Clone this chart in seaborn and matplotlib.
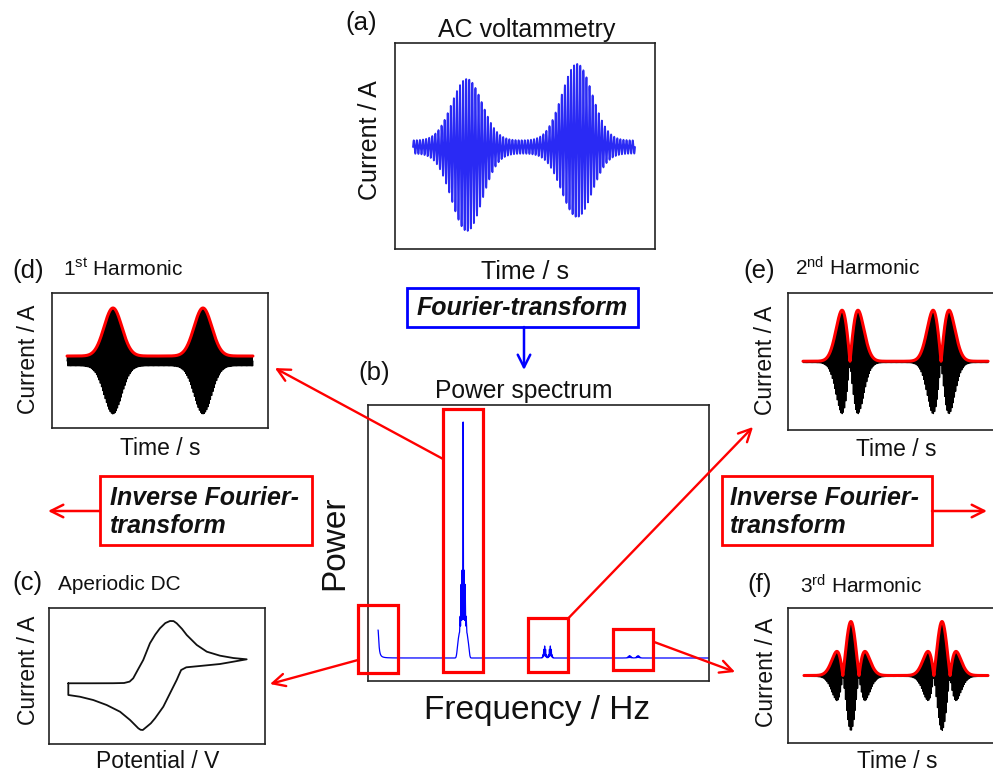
import numpy as np
import matplotlib
matplotlib.use("Agg")
import matplotlib.pyplot as plt
import seaborn as sns
from matplotlib.patches import Rectangle, FancyArrowPatch, ConnectionPatch

# ---------------------------------------------------------------- data
# AC voltammetry: time normalised to the scan length (0..1)
ac_peak_time = [0.243, 0.739]
ac_peak_amp = [0.914, 0.921]
ac_peak_dc = [-0.105, 0.086]
ac_peak_width = [0.068, 0.068]
ac_base_amp = 0.086
ac_cycles = 72

# harmonic envelopes (1st, 2nd, 3rd)
h1_peak_time = [0.247, 0.731]
h1_peak_amp = [0.906, 0.906]
h1_width = 0.048
h1_base = 0.094

h2_peak_time = [0.254, 0.746]
h2_peak_amp = [1.0, 1.0]
h2_width = 0.043
h2_base = 0.015

h3_peak_time = [0.255, 0.750]
h3_peak_amp = [1.0, 1.0]
h3_width = 0.044
h3_base = 0.01

harmonic_cycles = 150

# aperiodic DC component (cyclic voltammogram), potential in V, current in uA
cv_fwd_E = [-0.200, -0.100, 0.000, 0.050, 0.075, 0.091, 0.113, 0.136, 0.166, 0.190,
            0.211, 0.235, 0.256, 0.272, 0.286, 0.310, 0.331, 0.376, 0.421, 0.480,
            0.540, 0.600]
cv_fwd_I = [-1.30, -1.30, -1.29, -1.25, -1.00, -0.41, 1.20, 2.86, 5.84, 7.40,
            8.52, 9.45, 9.82, 9.80, 9.41, 8.40, 7.32, 5.54, 4.34, 3.63,
            3.21, 2.98]
cv_rev_E = [0.600, 0.539, 0.480, 0.391, 0.329, 0.306, 0.296, 0.286, 0.256, 0.226,
            0.189, 0.170, 0.152, 0.134, 0.124, 0.114, 0.077, 0.032, -0.028, -0.088,
            -0.148, -0.200, -0.200]
cv_rev_I = [2.98, 2.55, 2.14, 1.79, 1.55, 1.07, 0.20, -0.71, -3.09, -5.48,
            -7.55, -8.45, -9.05, -9.64, -9.60, -9.34, -7.86, -6.38, -5.18, -4.29,
            -3.70, -3.39, -1.30]

# power spectrum (frequency in Hz, power in arbitrary units)
fundamental_hz = 9.0
dc_height = 28.0
dc_halfwidth = 0.10
main_peak_height = 236.0     # tip of the fundamental
main_body_height = 89.0      # dense sideband cluster
main_foot_height = 26.0      # broad pedestal
harm_peak_freq = [17.62, 18.22, 26.6, 27.5]
harm_peak_height = [12.0, 12.0, 2.3, 2.3]
harm_peak_width = [0.12, 0.12, 0.15, 0.15]

# frequency windows selected for the inverse transform
window_center = [0.0, 9.0, 18.0, 27.0]
window_halfwidth = 2.12
window_top = [53, 249, 40, 29]
window_bottom = [-15, -14, -14, -12]
link_from_power = [-2, 199, 39.7, 16.3]

# ---------------------------------------------------------------- style
sns.set_style("white")
plt.rcParams["font.family"] = ["Liberation Sans", "DejaVu Sans"]
plt.rcParams["mathtext.fontset"] = "custom"
plt.rcParams["mathtext.rm"] = "Liberation Sans"
plt.rcParams["mathtext.it"] = "Liberation Sans:italic"
plt.rcParams["mathtext.bf"] = "Liberation Sans:bold"

W, H = 993, 773
fig = plt.figure(figsize=(W / 100, H / 100), dpi=100)
fig.patch.set_facecolor("white")

BLUE = "#0000ff"
RED = "#ff0000"
INK = "#111111"


def add_axes(left, top, right, bottom):
    ax = fig.add_axes([left / W, 1 - bottom / H, (right - left) / W, (bottom - top) / H])
    ax.set_xticks([])
    ax.set_yticks([])
    for sp in ax.spines.values():
        sp.set_color("#222222")
        sp.set_linewidth(1.2)
    ax.set_facecolor("white")
    return ax


def ftext(x, y, s, **kw):
    kw.setdefault("color", INK)
    kw.setdefault("va", "baseline")
    return fig.text(x / W, 1 - y / H, s, **kw)


def vlabel(x, y, s, size):
    ftext(x, y, s, rotation=90, rotation_mode="anchor", ha="center", fontsize=size)


def gauss(t, c, s):
    return np.exp(-0.5 * ((t - c) / s) ** 2)


def line(ax, x, y, **kw):
    sns.lineplot(x=x, y=y, ax=ax, estimator=None, sort=False, legend=False, **kw)


# ---------------------------------------------------------------- (a) AC voltammetry
ax_a = add_axes(395, 43, 655, 249)
t = np.linspace(0, 1, 30000)
env = ac_base_amp + sum(a * gauss(t, c, w) for a, c, w in zip(ac_peak_amp, ac_peak_time, ac_peak_width))
dc = sum(d * gauss(t, c, w) for d, c, w in zip(ac_peak_dc, ac_peak_time, ac_peak_width))
line(ax_a, t, dc + env * np.sin(2 * np.pi * ac_cycles * t), color="#2a2af4", lw=1.3)
ax_a.set_xlim(-0.081, 1.09)
ax_a.set_ylim(-1.342, 1.368)

# ---------------------------------------------------------------- harmonics
th = np.linspace(0, 1, 30000)
carrier = np.sin(2 * np.pi * harmonic_cycles * th)


def harmonic_panel(box, env, xlim, ylim):
    ax = add_axes(*box)
    line(ax, th, env * carrier, color="black", lw=0.8)
    line(ax, th, env, color=RED, lw=2.2, solid_capstyle="round")
    ax.set_xlim(*xlim)
    ax.set_ylim(*ylim)
    return ax


env1 = h1_base + sum(a * gauss(th, c, h1_width) for a, c in zip(h1_peak_amp, h1_peak_time))
env2 = h2_base + sum(a * np.abs((th - c) / h2_width) * np.exp(0.5) * gauss(th, c, h2_width)
                     for a, c in zip(h2_peak_amp, h2_peak_time))
env3 = h3_base + sum(a * np.abs(1 - ((th - c) / h3_width) ** 2) * gauss(th, c, h3_width)
                     for a, c in zip(h3_peak_amp, h3_peak_time))

ax_d = harmonic_panel((52, 293, 268, 428), env1, (-0.081, 1.081), (-1.264, 1.283))
ax_e = harmonic_panel((788, 293, 1004, 430), env2, (-0.081, 1.086), (-1.333, 1.353))
ax_f = harmonic_panel((788, 608, 1004, 743), env3, (-0.087, 1.087), (-1.24, 1.26))

# ---------------------------------------------------------------- (c) aperiodic DC
ax_c = add_axes(49, 608, 265, 744)
line(ax_c, np.array(cv_fwd_E + cv_rev_E), np.array(cv_fwd_I + cv_rev_I), color=INK, lw=1.3)
ax_c.set_xlim(-0.2866, 0.682)
ax_c.set_ylim(-12.14, 12.14)

# ---------------------------------------------------------------- (b) power spectrum
ax_b = add_axes(368, 405, 709, 681)
f = np.linspace(0, 35, 28001)
u = f - fundamental_hz
fringe = 0.6 + 0.4 * np.cos(2 * np.pi * u / 0.11)
foot = main_foot_height * np.exp(-(np.abs(u) / 0.62) ** 6)
body = (main_body_height - main_foot_height) * np.exp(-(np.abs(u) / 0.30) ** 4) * fringe
spike = (main_peak_height - main_body_height) * gauss(f, fundamental_hz, 0.012)
power = dc_height / (1 + (f / dc_halfwidth) ** 2) + foot + body + spike
for c, h, w in zip(harm_peak_freq, harm_peak_height, harm_peak_width):
    power = power + h * gauss(f, c, w) * (0.6 + 0.4 * np.cos(2 * np.pi * (f - c) / 0.1))
line(ax_b, f, power, color=BLUE, lw=0.9)
ax_b.set_xlim(-1.06, 35.0)
ax_b.set_ylim(-23, 253)

for c, top, bot in zip(window_center, window_top, window_bottom):
    ax_b.add_patch(Rectangle((c - window_halfwidth, bot), 2 * window_halfwidth, top - bot,
                             fill=False, ec=RED, lw=2.3, clip_on=False, zorder=5))

# links from the selected windows to the reconstructed signals
arrow_kw = dict(arrowstyle="->,head_length=0.9,head_width=0.45", mutation_scale=10,
                color=RED, lw=1.7, shrinkA=0, shrinkB=0, zorder=6)
links = [
    ((window_center[0] - window_halfwidth, link_from_power[0]), ax_c, (1.023, 0.441)),
    ((window_center[1] - window_halfwidth, link_from_power[1]), ax_d, (1.032, 0.444)),
    ((window_center[2] + window_halfwidth, link_from_power[2]), ax_e, (-0.162, 0.022)),
    ((window_center[3] + window_halfwidth, link_from_power[3]), ax_f, (-0.245, 0.526)),
]
for xy_a, target, xy_b in links:
    con = ConnectionPatch(xyA=xy_a, coordsA=ax_b.transData, xyB=xy_b, coordsB=target.transAxes,
                          **arrow_kw)
    con.set_clip_on(False)
    fig.add_artist(con)

# ---------------------------------------------------------------- labels
ftext(345, 30, "(a)", fontsize=18.5)
ftext(527, 37, "AC voltammetry", ha="center", fontsize=18)
vlabel(377, 140, "Current / A", 18)
ftext(525, 279, "Time / s", ha="center", fontsize=18)

ftext(358, 380, "(b)", fontsize=18.5)
ftext(524, 398, "Power spectrum", ha="center", fontsize=17.7)
vlabel(343, 543, "Power", 24)
ftext(537, 719, "Frequency / Hz", ha="center", fontsize=24)

ftext(12, 278, "(d)", fontsize=18.5)
ftext(63, 276, r"1$^{\mathrm{st}}$ Harmonic", fontsize=15)
vlabel(35, 359, "Current / A", 16.5)
ftext(160, 455, "Time / s", ha="center", fontsize=16.5)

ftext(743, 278, "(e)", fontsize=18.5)
ftext(795, 276, r"2$^{\mathrm{nd}}$ Harmonic", fontsize=15)
vlabel(772, 360, "Current / A", 16.5)
ftext(896, 456, "Time / s", ha="center", fontsize=16.5)

ftext(12, 590, "(c)", fontsize=18.5)
ftext(58, 590, "Aperiodic DC", fontsize=15)
vlabel(35, 670, "Current / A", 16.5)
ftext(158, 768, "Potential / V", ha="center", fontsize=16.5)

ftext(747, 592, "(f)", fontsize=18.5)
ftext(800, 593, r"3$^{\mathrm{rd}}$ Harmonic", fontsize=15)
vlabel(773, 672, "Current / A", 16.5)
ftext(897, 768, "Time / s", ha="center", fontsize=16.5)


# ---------------------------------------------------------------- transform boxes
def fig_box(left, top, right, bottom, color):
    fig.add_artist(Rectangle((left / W, 1 - bottom / H), (right - left) / W, (bottom - top) / H,
                             transform=fig.transFigure, fill=True, fc="white", ec=color, lw=2.0,
                             zorder=4))


def fig_arrow(x0, y0, x1, y1, color):
    fig.add_artist(FancyArrowPatch((x0 / W, 1 - y0 / H), (x1 / W, 1 - y1 / H),
                                   transform=fig.transFigure,
                                   arrowstyle="->,head_length=0.9,head_width=0.45",
                                   mutation_scale=10, color=color, lw=1.8,
                                   shrinkA=0, shrinkB=0, zorder=6))


bold_it = dict(fontsize=18, fontweight="bold", fontstyle="italic", zorder=7)

fig_box(407, 288, 638, 327, BLUE)
ftext(522, 315, "Fourier-transform", ha="center", **bold_it)
fig_arrow(524, 327, 524, 370, BLUE)

fig_box(100, 476, 312, 545, RED)
ftext(110, 505, "Inverse Fourier-", **bold_it)
ftext(110, 533, "transform", **bold_it)
fig_arrow(100, 511, 48, 511, RED)

fig_box(722, 476, 932, 545, RED)
ftext(730, 505, "Inverse Fourier-", **bold_it)
ftext(730, 533, "transform", **bold_it)
fig_arrow(932, 511, 987, 511, RED)

fig.savefig("out.png", dpi=100, facecolor="white")
